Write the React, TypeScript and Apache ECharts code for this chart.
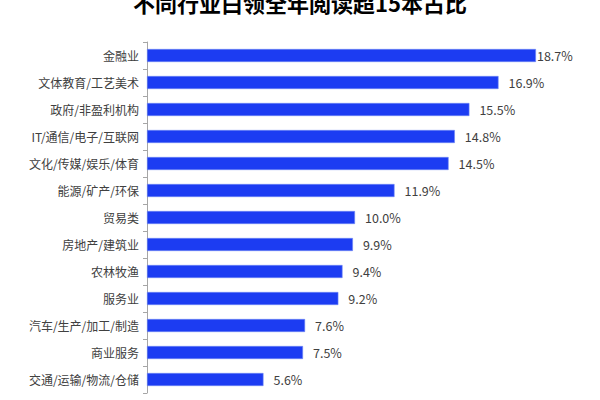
import React, { useEffect, useRef } from 'react';
import * as echarts from 'echarts';

const categories = [
	'金融业',
	'文体教育/工艺美术',
	'政府/非盈利机构',
	'IT/通信/电子/互联网',
	'文化/传媒/娱乐/体育',
	'能源/矿产/环保',
	'贸易类',
	'房地产/建筑业',
	'农林牧渔',
	'服务业',
	'汽车/生产/加工/制造',
	'商业服务',
	'交通/运输/物流/仓储'
];
const shares = [18.7, 16.9, 15.5, 14.8, 14.5, 11.9, 10.0, 9.9, 9.4, 9.2, 7.6, 7.5, 5.6];

const FONT = '"Noto Sans CJK SC", "Noto Sans", sans-serif';

const App: React.FC = () => {
	const chartRef = useRef<HTMLDivElement>(null);

	useEffect(() => {
		if (!chartRef.current) return;
		const chart = echarts.init(chartRef.current, undefined, { renderer: 'svg' });

		const option: echarts.EChartsOption = {
			animation: false,
			backgroundColor: '#ffffff',
			title: {
				// the reference crops this title at the top edge
				text: '不同行业白领全年阅读超15本占比',
				left: 'center',
				top: -14,
				textStyle: {
					color: '#000',
					fontSize: 22,
					fontWeight: 'bold',
					fontFamily: FONT
				}
			},
			grid: {
				left: 147,
				right: 37,
				top: 42,
				bottom: 7
			},
			xAxis: {
				type: 'value',
				min: 0,
				max: 20,
				show: false
			},
			yAxis: {
				type: 'category',
				data: categories,
				inverse: true,
				axisLine: { lineStyle: { color: '#a6a6a6', width: 1 } },
				axisTick: { show: true, length: 4, lineStyle: { color: '#a6a6a6' } },
				axisLabel: {
					color: '#404040',
					fontSize: 12,
					margin: 8,
					fontFamily: FONT
				}
			},
			series: [
				{
					type: 'bar',
					data: shares.map((v, i) =>
						i === 0 ? { value: v, label: { distance: 1 } } : v
					),
					barWidth: 13,
					itemStyle: {
						color: '#1c3cf2',
						borderColor: '#6f86f5',
						borderWidth: 0.6
					},
					label: {
						show: true,
						position: 'right',
						distance: 10,
						color: '#404040',
						fontSize: 12.5,
						fontFamily: FONT,
						formatter: (p: any) => `${Number(p.value).toFixed(1)}%`
					}
				}
			]
		};

		chart.setOption(option);
		return () => {
			chart.dispose();
		};
	}, []);

	return (
		<div
			ref={chartRef}
			style={{ position: 'fixed', left: 0, top: 0, width: '600px', height: '400px' }}
		/>
	);
};

export default App;
